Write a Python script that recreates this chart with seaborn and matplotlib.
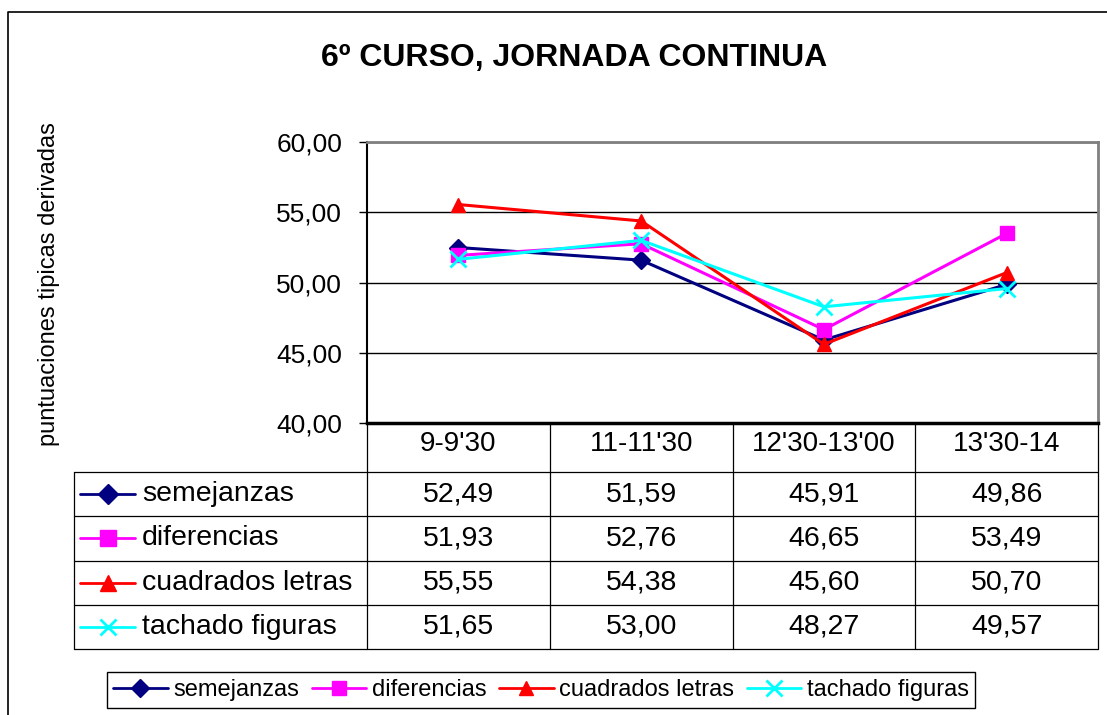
import numpy as np
import pandas as pd
import matplotlib
matplotlib.use("Agg")
import matplotlib.pyplot as plt
from matplotlib.lines import Line2D
from matplotlib.ticker import FuncFormatter
import seaborn as sns

# datos de la grafica
horarios = ["9-9'30", "11-11'30", "12'30-13'00", "13'30-14"]
series = ["semejanzas", "diferencias", "cuadrados letras", "tachado figuras"]
semejanzas = [52.49, 51.59, 45.91, 49.86]
diferencias = [51.93, 52.76, 46.65, 53.49]
cuadrados_letras = [55.55, 54.38, 45.60, 50.70]
tachado_figuras = [51.65, 53.00, 48.27, 49.57]
yticks = [40, 45, 50, 55, 60]

colores = ["#000080", "#FF00FF", "#FF0000", "#00FFFF"]
marcadores = ["D", "s", "^", "x"]
tam_marc = [9, 10, 10, 11]

valores = [semejanzas, diferencias, cuadrados_letras, tachado_figuras]
df = pd.DataFrame({
    "horario": horarios * len(series),
    "serie": np.repeat(series, len(horarios)),
    "valor": np.concatenate(valores),
})

sns.set_theme(style="white")
plt.rcParams["font.family"] = ["Liberation Sans", "DejaVu Sans"]
plt.rcParams.update({"text.color": "black", "axes.labelcolor": "black",
                     "xtick.color": "black", "ytick.color": "black"})

W, H = 1107, 715
L, R, T, B = 367, 1098, 142, 423
fig = plt.figure(figsize=(W / 100, H / 100), dpi=100)
fig.patch.set_facecolor("white")

ax = fig.add_axes([L / W, 1 - B / H, (R - L) / W, (B - T) / H])

def fmt(v):
    return f"{v:.2f}".replace(".", ",")

for nombre, color, m, ms in zip(series, colores, marcadores, tam_marc):
    sub = df[df["serie"] == nombre]
    sns.lineplot(data=sub, x="horario", y="valor", color=color, marker=m,
                 markersize=ms, markeredgecolor=color,
                 markeredgewidth=2 if m == "x" else 1,
                 linewidth=2.2, sort=False, ax=ax)

ax.set_xlim(-0.5, len(horarios) - 0.5)
ax.set_ylim(yticks[0], yticks[-1])
ax.set_yticks(yticks)
ax.yaxis.set_major_formatter(FuncFormatter(lambda v, p: fmt(v)))
ax.set_xticks(range(len(horarios)))
ax.set_xticklabels(horarios)
ax.set_xlabel("")
ax.set_ylabel("puntuaciones tipicas derivadas", fontsize=17)
ax.yaxis.set_label_coords((60 - L) / (R - L), (B - 284) / (B - T))
ax.tick_params(axis="y", direction="out", length=6, width=1, color="black",
               labelsize=19, pad=12, left=True)
ax.tick_params(axis="x", length=0, labelsize=20, pad=6)
ax.set_axisbelow(True)
ax.yaxis.grid(True, color="black", linewidth=1)
ax.spines["left"].set(color="black", linewidth=1.5)
ax.spines["bottom"].set(color="black", linewidth=2.5)
ax.spines["top"].set(color="#808080", linewidth=2)
ax.spines["right"].set(color="#808080", linewidth=2)

fig.text(574 / W, 1 - 58 / H, "6º CURSO, JORNADA CONTINUA",
         fontsize=23, fontweight="bold", ha="center", va="center")

# tabla de datos bajo el eje
ov = fig.add_axes([0, 0, 1, 1], zorder=-1)
ov.set_xlim(0, W)
ov.set_ylim(H, 0)
ov.axis("off")

tab_left, head_bot, tab_bot = 74, 472, 649
row_h = (tab_bot - head_bot) / len(series)
col_w = (R - L) / len(horarios)
lk = dict(color="black", linewidth=0.9)
for i in range(len(series) + 1):
    y = head_bot + i * row_h
    ov.plot([tab_left, R], [y, y], **lk)
ov.plot([tab_left, tab_left], [head_bot, tab_bot], **lk)
for j in range(len(horarios) + 1):
    x = L + j * col_w
    ov.plot([x, x], [B, tab_bot], **lk)

for i, (nombre, color, m, ms, vals) in enumerate(zip(series, colores, marcadores, tam_marc, valores)):
    yc = head_bot + (i + 0.5) * row_h
    ov.plot([80, 135], [yc, yc], color=color, linewidth=2)
    ov.plot([107.5], [yc], marker=m, markersize=ms + 1, color=color,
            markeredgecolor=color, markeredgewidth=2 if m == "x" else 1)
    ov.text(142, yc, nombre, fontsize=20.5, ha="left", va="center")
    for j, v in enumerate(vals):
        ov.text(L + (j + 0.5) * col_w, yc, fmt(v), fontsize=20.5,
                ha="center", va="center")

# borde exterior del grafico
ov.plot([8, 8, W + 5], [H + 5, 12, 12], color="black", linewidth=1.2, clip_on=False)

handles = [Line2D([], [], color=c, marker=m, markersize=ms, markeredgecolor=c,
                  markeredgewidth=2 if m == "x" else 1, linewidth=2)
           for c, m, ms in zip(colores, marcadores, tam_marc)]
leg = fig.legend(handles, series, loc="center", bbox_to_anchor=(541 / W, 1 - 690 / H),
                 ncol=4, frameon=True, fancybox=False, edgecolor="black",
                 framealpha=1, prop={"size": 17},
                 handlelength=2.3, handletextpad=0.23, columnspacing=0.55,
                 borderpad=0.28, borderaxespad=0)
leg.get_frame().set_linewidth(1)

fig.savefig("out.png", dpi=100)
